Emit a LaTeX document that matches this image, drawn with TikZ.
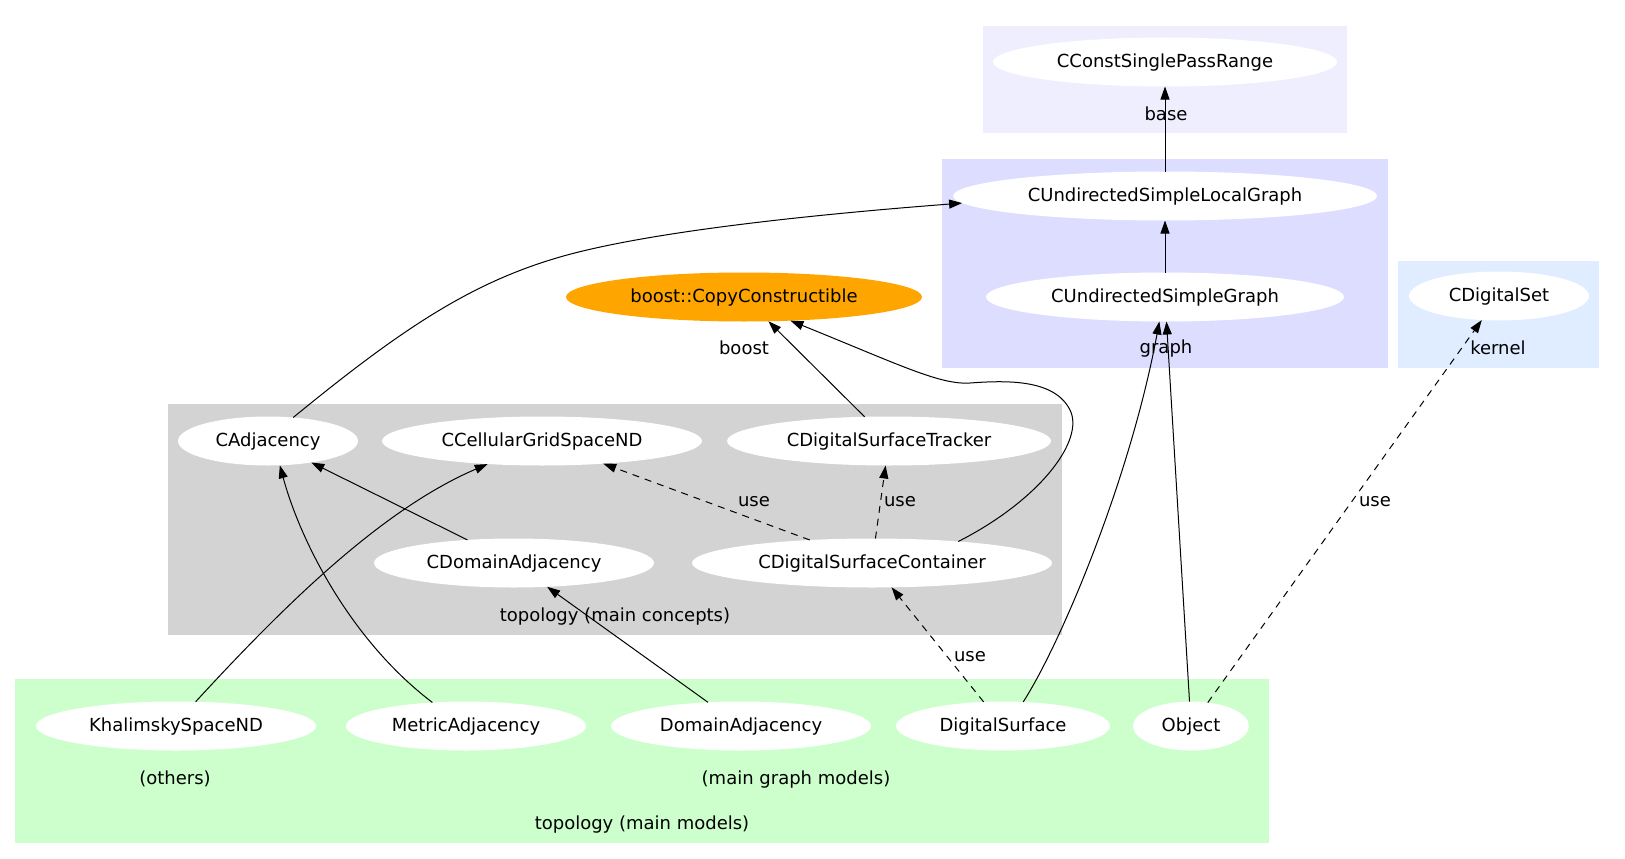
\documentclass[tikz,border=0pt]{standalone}
\usepackage{fontspec}
\setmainfont{DejaVu Sans}
\usetikzlibrary{shapes.geometric,arrows.meta}
\definecolor{baseblue}{HTML}{EEEEFF}
\definecolor{graphblue}{HTML}{DDDDFF}
\definecolor{kernelblue}{HTML}{E0ECFF}
\definecolor{topogray}{HTML}{D3D3D3}
\definecolor{modelgreen}{HTML}{CCFFCC}
\definecolor{boostorange}{HTML}{FFA500}

\begin{document}
\begin{tikzpicture}[x=1pt,y=-1pt,font=\fontsize{18}{22}\selectfont,line join=round,>={Triangle[length=13pt,width=9pt]},
	every node/.style={text height=13pt,text depth=1.6pt},
	concept/.style={ellipse,fill=white,inner sep=0pt,outer sep=0pt,minimum height=49pt},
	rel/.style={->,line width=1pt},
	userel/.style={rel,dash pattern=on 7pt off 6pt}]
	\useasboundingbox (0,0) rectangle (1625,859);
	
	\fill[baseblue] (983,26) rectangle (1347,133);
	\fill[graphblue] (942,159) rectangle (1388,368);
	\fill[kernelblue] (1398,261) rectangle (1599,368);
	\fill[topogray] (168,404) rectangle (1062,635);
	\fill[modelgreen] (15,679) rectangle (1269,843);
	
	\node (baselbl) at (1166,115) {base};
	\node (graphlbl) at (1166,348) {graph};
	\node (kernellbl) at (1498,349) {kernel};
	\node (boostlbl) at (744,349) {boost};
	\node (conceptslbl) at (615,616) {topology (main concepts)};
	\node (otherslbl) at (175,779) {(others)};
	\node (graphmodlbl) at (796,779) {(main graph models)};
	\node (modelslbl) at (642,824) {topology (main models)};
	
	\node[concept,minimum width=344pt] (range) at (1165,62) {CConstSinglePassRange};
	\node[concept,minimum width=424pt] (lgraph) at (1165,196) {CUndirectedSimpleLocalGraph};
	\node[concept,minimum width=358pt] (sgraph) at (1165,297) {CUndirectedSimpleGraph};
	\node[concept,minimum width=180pt] (dset) at (1499,296) {CDigitalSet};
	\node[concept,minimum width=356pt,fill=boostorange] (copy) at (744,297) {boost::CopyConstructible};
	
	\node[concept,minimum width=180pt] (cadj) at (268,441) {CAdjacency};
	\node[concept,minimum width=320pt] (cellular) at (542,441) {CCellularGridSpaceND};
	\node[concept,minimum width=324pt] (tracker) at (889,441) {CDigitalSurfaceTracker};
	\node[concept,minimum width=280pt] (cdomadj) at (514,563) {CDomainAdjacency};
	\node[concept,minimum width=360pt] (container) at (872,563) {CDigitalSurfaceContainer};
	
	\node[concept,minimum width=280pt] (khal) at (176,726) {KhalimskySpaceND};
	\node[concept,minimum width=240pt] (metric) at (466,726) {MetricAdjacency};
	\node[concept,minimum width=260pt] (domadj) at (741,726) {DomainAdjacency};
	\node[concept,minimum width=214pt] (dsurf) at (1003,726) {DigitalSurface};
	\node[concept,minimum width=116pt] (object) at (1191,726) {Object};
	
	\draw[rel] (lgraph) -- (range);
	\draw[rel] (sgraph) -- (lgraph);
	\draw[rel] (cadj.43) .. controls (400,330) and (470,283) .. (560,257) .. controls (650,231) and (820,214) .. (lgraph.182);
	\draw[rel] (tracker) -- (copy);
	\draw[rel] (container.14) .. controls (1040,500) and (1085,440) .. (1070,410) .. controls (1055,380) and (1010,380) .. (970,383) .. controls (940,385) and (900,365) .. (copy.-27);
	\draw[rel] (cdomadj) -- (cadj);
	\draw[userel] (container) -- (cellular);
	\draw[userel] (container) -- (tracker);
	\draw[rel] (khal.51) .. controls (280,610) and (380,510) .. (cellular.203);
	\draw[rel] (metric.145) .. controls (350,640) and (300,540) .. (cadj.-64);
	\draw[rel] (domadj) -- (cdomadj);
	\draw[userel] (dsurf) -- (container);
	\draw[rel] (dsurf.50) .. controls (1060,645) and (1130,480) .. (sgraph.-103);
	\draw[rel] (object) -- (sgraph);
	\draw[userel] (object) -- (dset);
	
	\foreach \x/\y/\n in {754/501/usea, 900/501/useb, 970/656/usec, 1375/501/used} {
		\node (\n) at (\x,\y) {use};
	}
\end{tikzpicture}
\end{document}
